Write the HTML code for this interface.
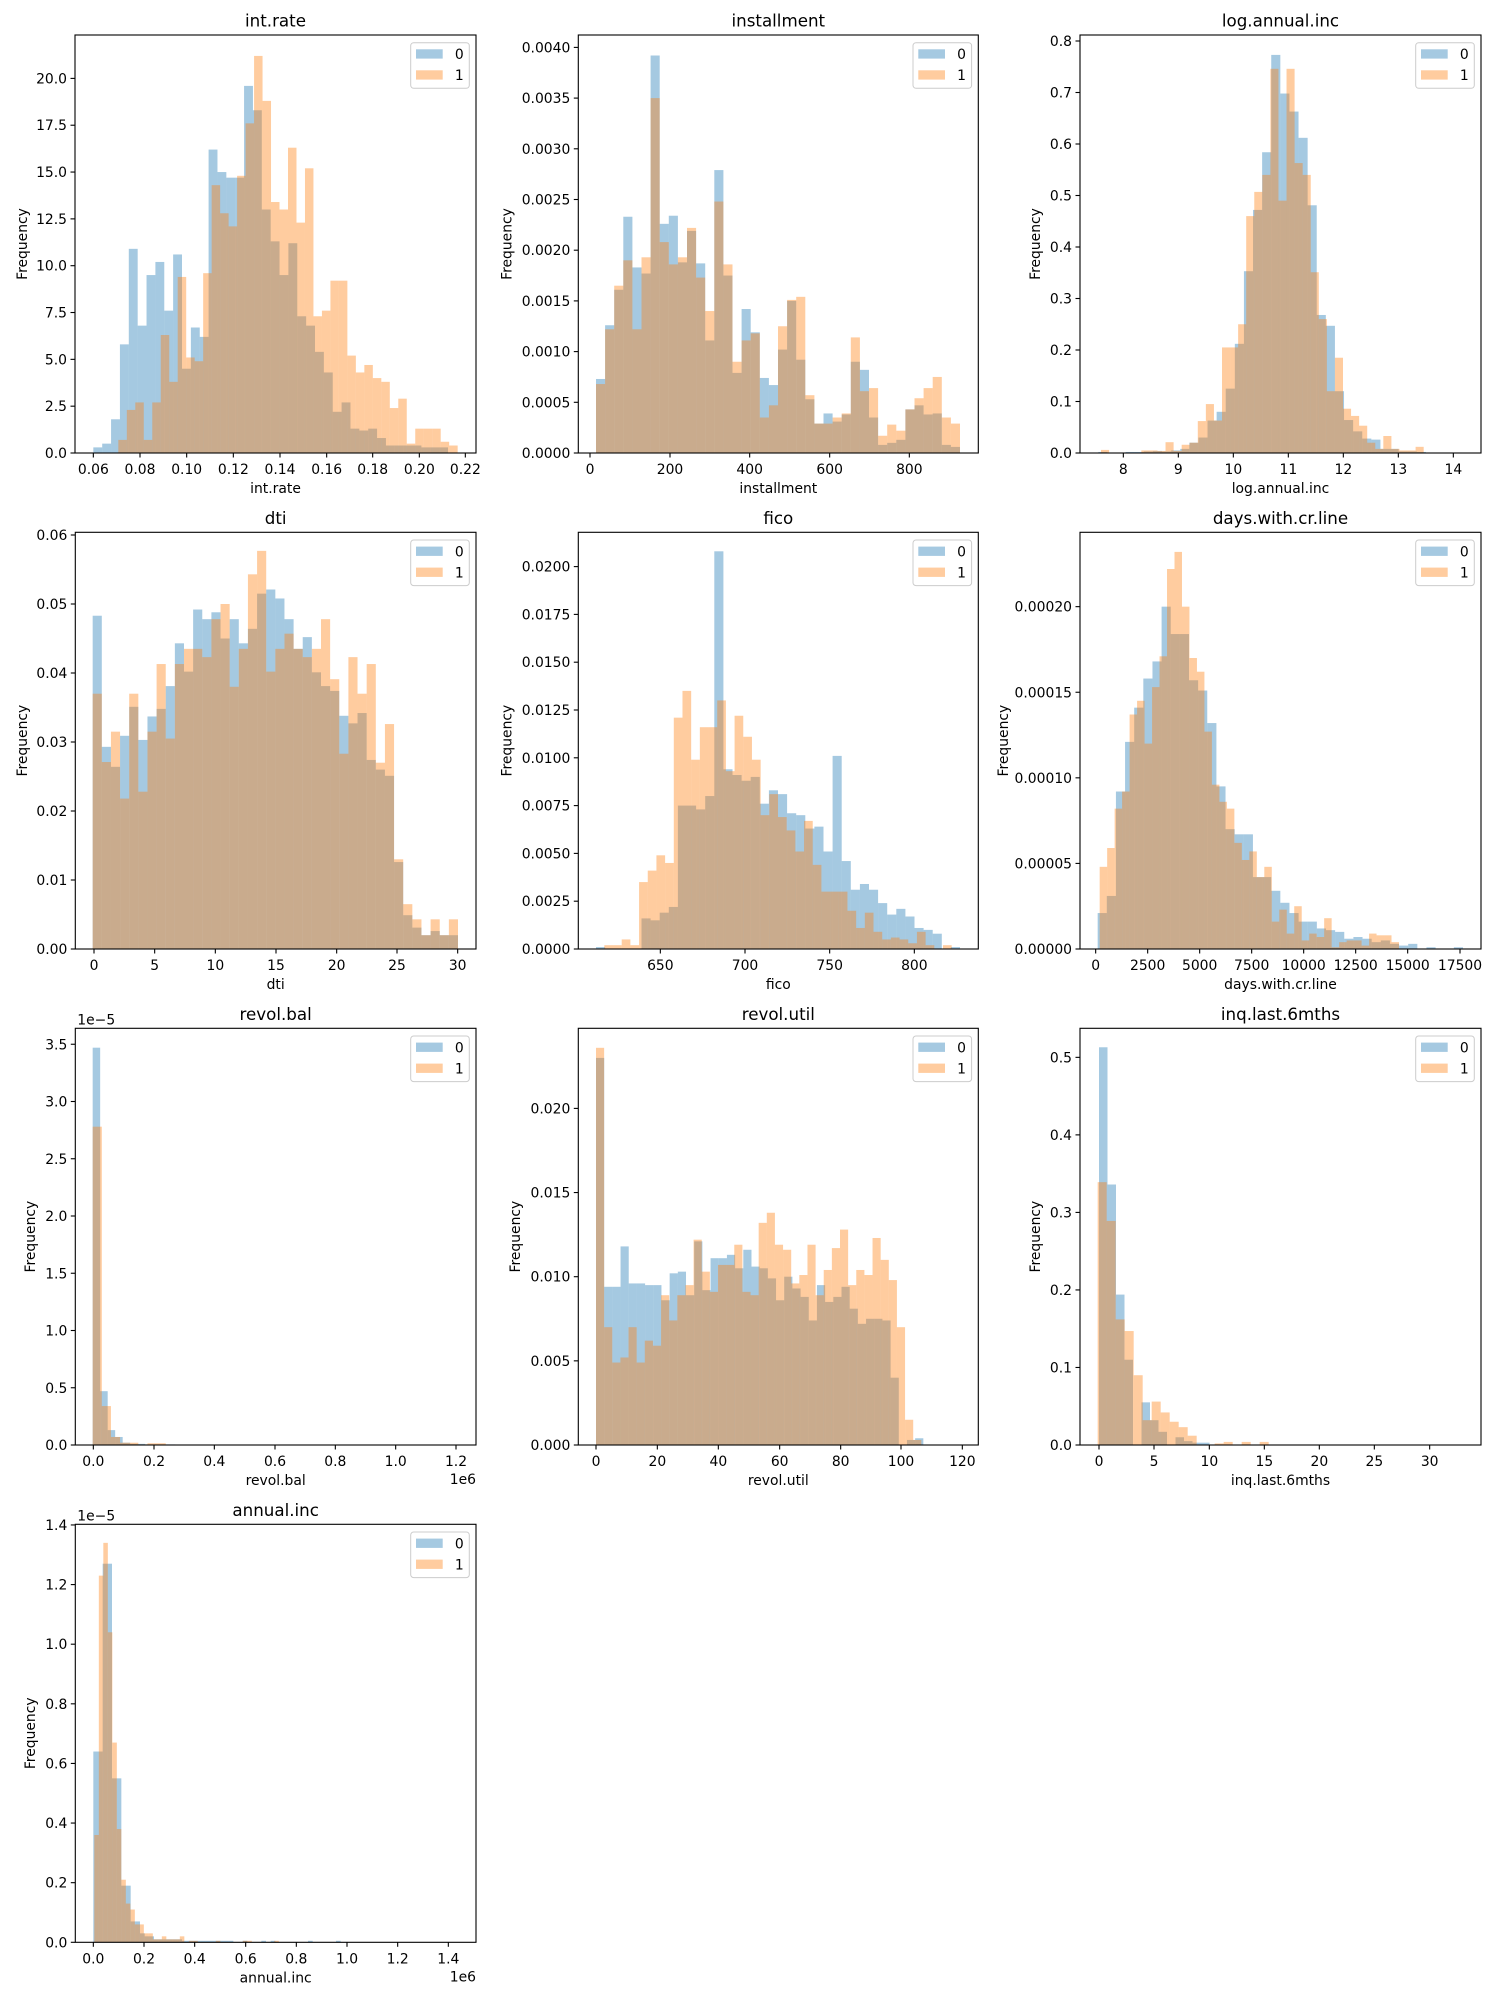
<!DOCTYPE html>
<html><head><meta charset="utf-8"><style>
html,body{margin:0;padding:0;background:#fff;}
svg{display:block;}
text{font-family:"DejaVu Sans","Liberation Sans",sans-serif;fill:#000;}
</style></head><body>
<svg id="s" width="1500" height="2000" xmlns="http://www.w3.org/2000/svg"></svg>
<script>
const C=[
{title:'int.rate',ox:0,ax:[75,35,476,453],ys:18.73,yl:22,
 yt:{step:2.5,labels:['0.0','2.5','5.0','7.5','10.0','12.5','15.0','17.5','20.0']},
 xt:[[280,'0.06'],[420,'0.08'],[560,'0.10'],[700,'0.12'],[840,'0.14'],[980,'0.16'],[1118,'0.18'],[1258,'0.20'],[1396,'0.22']],
 ser:[{s:280,w:26.6,h:[0.3,0.5,1.8,5.8,10.9,6.8,9.5,10.2,7.6,10.6,4.5,6.7,6.2,16.2,15.0,14.7,14.7,19.6,18.3,13.0,11.3,9.5,11.2,7.3,6.8,5.4,4.3,2.2,2.7,1.3,1.2,1.3,0.8,0.4,0.4,0.4,0.4,0.3,0.3,0.3]},
      {s:355,w:25.45,h:[0.7,2.3,2.7,0.7,2.7,6.3,3.8,9.4,5.1,4.9,9.6,14.3,12.8,12.1,14.8,17.6,21.2,18.8,13.4,13.0,16.3,12.3,15.2,7.3,7.6,9.2,9.2,5.2,4.3,4.7,4.0,3.8,2.4,2.9,0.5,1.3,1.3,1.3,0.6,0.4]}]},
{title:'installment',ox:500,ax:[578.3,35,978.3,453],ys:10.14,yl:506.7,
 yt:{step:5,labels:['0.0000','0.0005','0.0010','0.0015','0.0020','0.0025','0.0030','0.0035','0.0040']},
 xt:[[270,'0'],[510,'200'],[749,'400'],[989,'600'],[1228,'800']],
 ser:[{s:288,w:27.3,h:[7.3,12.6,16.1,23.3,18.3,17.7,39.2,22.6,23.4,18.8,21.9,18.7,11.1,27.9,17.5,7.9,14.2,11.9,7.4,6.7,10.2,15.0,9.2,5.3,2.9,3.9,3.1,3.8,9.0,8.2,3.5,0.8,1.0,1.3,4.3,4.7,3.8,3.9,0.8,0.6]},
      {s:288,w:27.3,h:[6.8,12.2,16.5,19.0,12.2,19.3,35.0,20.8,18.6,19.3,22.2,17.3,14.0,24.8,18.6,9.0,11.1,11.8,3.5,4.7,12.5,15.1,15.4,5.7,2.9,2.9,3.5,3.9,11.4,6.1,6.4,1.7,2.8,2.2,4.3,5.4,6.4,7.5,3.5,2.9]}]},
{title:'log.annual.inc',ox:1000,ax:[1080,35,1481,453],ys:5.15,yl:1035,
 yt:{step:10,labels:['0.0','0.1','0.2','0.3','0.4','0.5','0.6','0.7','0.8']},
 xt:[[370,'8'],[535,'9'],[700,'10'],[865,'11'],[1030,'12'],[1195,'13'],[1360,'14']],
 ser:[{s:295,w:27.3,h:[0.2,0,0,0.2,0.2,0.3,0.4,0.3,0.5,0.8,2.0,3.0,6.3,8.0,12.5,21.2,35.3,47.2,58.4,77.3,69.8,66.3,61.2,48.1,26.8,24.7,12.0,6.4,4.2,2.8,2.6,0.8,0.8,0.3,0.3,0.2,0.1,0.1,0.1,0.1]},
      {s:303,w:24.2,h:[0.6,0,0,0,0,0.5,0.5,0.4,2.1,0.4,1.6,2.0,6.2,9.5,6.3,20.5,20.5,25.0,46.0,50.7,54.0,74.6,49.0,74.6,56.3,54.0,35.1,26.0,12.0,18.5,8.6,7.2,5.3,2.0,0.8,3.3,0.8,0.5,0.5,1.2]}]},
{title:'dti',ox:0,ax:[75.3,532.3,476,949],ys:6.9,yl:22,
 yt:{step:10,labels:['0.00','0.01','0.02','0.03','0.04','0.05','0.06']},
 xt:[[282,'0'],[464,'5'],[646,'10'],[828,'15'],[1010,'20'],[1191,'25'],[1373,'30']],
 ser:[{s:278,w:27.4,h:[48.3,29.3,26.4,30.9,35.1,30.3,33.7,34.8,38.1,44.3,40.2,49.2,47.8,48.8,45.0,47.8,44.3,46.4,51.5,52.1,50.8,47.8,43.5,45.2,40.1,38.1,37.4,33.8,32.7,34.2,27.4,26.0,25.1,12.6,4.9,3.1,2.0,2.6,2.0,2.0]},
      {s:278,w:27.4,h:[37.0,27.1,31.5,21.8,37.0,22.8,31.5,41.3,30.5,41.3,43.5,43.5,42.3,47.8,50.0,38.0,43.5,54.3,57.7,40.2,43.5,45.7,43.5,42.3,43.5,47.8,39.1,28.3,42.3,37.0,41.3,27.0,32.6,13.0,6.5,4.3,2.0,4.3,2.0,4.3]}]},
{title:'fico',ox:500,ax:[578.3,532.3,978.3,949],ys:1.912,yl:506.7,
 yt:{step:25,labels:['0.0000','0.0025','0.0050','0.0075','0.0100','0.0125','0.0150','0.0175','0.0200']},
 xt:[[481,'650'],[735,'700'],[989,'750'],[1243,'800']],
 ser:[{s:288,w:27.3,h:[1,0,0,0,0,16,15,19,22,75,75,73,80,208,94,91,88,90,76,83,81,71,70,63,64,51,101,46,31,34,31,24,18,21,17,11,10,8,0,1]},
      {s:313,w:26.05,h:[2,2,5,2,35,41,49,45,121,135,99,116,116,130,93,122,111,99,70,81,69,62,51,67,44,30,30,30,20,11,19,9,5,6,5,3,9,2,0,2]}]},
{title:'days.with.cr.line',ox:1000,ax:[1080,532.3,1481,949],ys:1.7117,yl:1003,
 yt:{step:50,labels:['0.00000','0.00005','0.00010','0.00015','0.00020']},
 xt:[[287,'0'],[443,'2500'],[599,'5000'],[755,'7500'],[911,'10000'],[1067,'12500'],[1223,'15000'],[1380,'17500']],
 ser:[{s:293,w:27.4,h:[21,31,92,121,141,158,168,200,184,184,157,151,132,95,70,67,67,42,42,34,27,21,16,16,12,11,10,6,7,6,4,5,3,2,3,0,1,0,0,1]},
      {s:299,w:22.45,h:[48,59,82,92,137,145,120,153,171,222,232,200,170,162,127,96,86,82,62,52,57,42,48,16,23,9,25,5,9,7,18,1,4,5,5,2,9,8,8,4]}]},
{title:'revol.bal',ox:0,ax:[75.3,1028.3,476,1445],ys:1.145,yl:30,off:true,
 yt:{step:50,labels:['0.0','0.5','1.0','1.5','2.0','2.5','3.0','3.5']},
 xt:[[280,'0.0'],[462,'0.2'],[643,'0.4'],[825,'0.6'],[1006,'0.8'],[1187,'1.0'],[1368,'1.2']],
 ser:[{s:278,w:22.5,h:[347,47,13,7,2,1,1,0.5,0.5,0.5,0.5]},
      {s:278,w:27.4,h:[278,34,7,2,2,0.5,1.5,1.5]}]},
{title:'revol.util',ox:500,ax:[578.3,1028.3,978.3,1445],ys:16.83,yl:515,
 yt:{step:5,labels:['0.000','0.005','0.010','0.015','0.020']},
 xt:[[288,'0'],[472,'20'],[655,'40'],[839,'60'],[1022,'80'],[1203,'100'],[1387,'120']],
 ser:[{s:288,w:24.55,h:[23.0,9.4,9.4,11.8,9.6,9.6,9.5,9.5,8.6,10.2,10.3,8.9,12.1,9.2,11.1,11.1,11.3,10.5,11.6,10.6,10.5,9.9,8.6,10.0,9.3,8.8,7.4,9.5,8.5,8.8,9.4,8.1,7.2,7.5,7.5,7.4,4.0,0,0.3,0.4]},
      {s:288,w:24.4,h:[23.6,7.0,4.9,5.2,7.0,4.9,6.2,5.9,8.9,7.4,8.9,9.5,12.2,10.3,9.1,10.7,10.7,11.9,9.1,8.9,13.2,13.8,11.9,11.6,9.6,10.1,11.9,8.9,10.4,11.7,12.8,9.5,10.4,10.1,12.3,11.0,9.8,7.0,1.5,0.3]}]},
{title:'inq.last.6mths',ox:1000,ax:[1080,1028.3,1481,1445],ys:7.753,yl:1035,
 yt:{step:10,labels:['0.0','0.1','0.2','0.3','0.4','0.5']},
 xt:[[297,'0'],[462,'5'],[628,'10'],[793,'15'],[958,'20'],[1123,'25'],[1289,'30']],
 ser:[{s:297,w:25.5,h:[51.3,33.6,19.4,11.0,0,5.5,3.2,1.7,0,1.0,0.5,0.3,0.3]},
      {s:293,w:27,h:[33.9,28.9,16.2,14.7,9.0,3.2,5.6,4.2,3.0,2.3,1.2,0,0,0.2,0.4,0,0.4,0,0.4]}]},
{title:'annual.inc',ox:0,ax:[75.3,1524.3,476,1942.3],ys:2.981,yl:30,off:true,
 yt:{step:20,labels:['0.0','0.2','0.4','0.6','0.8','1.0','1.2','1.4']},
 xt:[[280,'0.0'],[432,'0.2'],[584,'0.4'],[737,'0.6'],[889,'0.8'],[1041,'1.0'],[1193,'1.2'],[1345,'1.4']],
 ser:[{s:280,w:14,h:[64,64,127,127,55,55,19,19,7,7,3,2,2,1,1,1,1,1,1,0.5,0.5,0.5,0.5,0.5,0.5,0.5,0.5,0.5,0.5,0.5,0,0,0.5,0,0,0,0.5,0,0.5,0,0,0,0,0,0,0,0.5,0,0,0,0,0,0.5]},
      {s:283,w:13.5,h:[36,123,134,104,67,38,21,13,11,6,6,3,3,1,1,2,1,1,1,2,0,0.5,0.5,0,0,0,0,0.5,0,0,0,0,0,0.5,0.5,0,0,0,0,0,0.5]}]}
];
let out='';
const f=n=>(+n).toFixed(2);
C.forEach(c=>{
 const [L,T,R,B]=c.ax;
 c.ser.forEach((se,i)=>{
  const col=i?'#ff7f0e':'#1f77b4';
  se.h.forEach((v,k)=>{ if(v<=0)return;
   const x=c.ox+(se.s+se.w*k)/3, w=se.w/3, hh=v*c.ys;
   out+=`<rect x="${f(x)}" y="${f(B-hh)}" width="${f(w)}" height="${f(hh)}" fill="${col}" fill-opacity="0.4"/>`;
  });
 });
 out+=`<rect x="${L}" y="${T}" width="${f(R-L)}" height="${f(B-T)}" fill="none" stroke="#000" stroke-width="1.1"/>`;
 c.xt.forEach(([zx,l])=>{const x=c.ox+zx/3;
  out+=`<line x1="${f(x)}" y1="${B}" x2="${f(x)}" y2="${B+4.5}" stroke="#000" stroke-width="1.1"/>`;
  out+=`<text x="${f(x)}" y="${f(B+21)}" font-size="13.9" text-anchor="middle">${l}</text>`;});
 c.yt.labels.forEach((l,i)=>{const y=B-i*c.yt.step*c.ys;
  out+=`<line x1="${L-4.5}" y1="${f(y)}" x2="${L}" y2="${f(y)}" stroke="#000" stroke-width="1.1"/>`;
  out+=`<text x="${L-8}" y="${f(y+5)}" font-size="13.9" text-anchor="end">${l}</text>`;});
 const cx=(L+R)/2, cy=(T+B)/2;
 out+=`<text x="${f(cx)}" y="${f(T-8.3)}" font-size="16.7" text-anchor="middle">${c.title}</text>`;
 out+=`<text x="${f(cx)}" y="${f(B+40)}" font-size="13.9" text-anchor="middle">${c.title}</text>`;
 out+=`<text transform="translate(${c.yl+5},${f(cy)}) rotate(-90)" font-size="13.9" text-anchor="middle">Frequency</text>`;
 if(c.off){
  out+=`<text x="${L+2}" y="${f(T-4)}" font-size="13.9">1e\u22125</text>`;
  out+=`<text x="${R}" y="${f(B+39)}" font-size="13.9" text-anchor="end">1e6</text>`;
 }
 const lx=R-65.3, ly=T+7.7;
 out+=`<rect x="${f(lx)}" y="${f(ly)}" width="58.6" height="45.6" rx="3" fill="#fff" fill-opacity="0.8" stroke="#cccccc" stroke-width="1"/>`;
 out+=`<rect x="${f(lx+5.3)}" y="${f(ly+6.6)}" width="26.7" height="9.3" fill="#1f77b4" fill-opacity="0.4"/>`;
 out+=`<rect x="${f(lx+5.3)}" y="${f(ly+27.6)}" width="26.7" height="9.3" fill="#ff7f0e" fill-opacity="0.4"/>`;
 out+=`<text x="${f(lx+48.6)}" y="${f(ly+16.5)}" font-size="13.9" text-anchor="middle">0</text>`;
 out+=`<text x="${f(lx+48.6)}" y="${f(ly+37.5)}" font-size="13.9" text-anchor="middle">1</text>`;
});
document.getElementById('s').innerHTML=out;
</script>
</body></html>
